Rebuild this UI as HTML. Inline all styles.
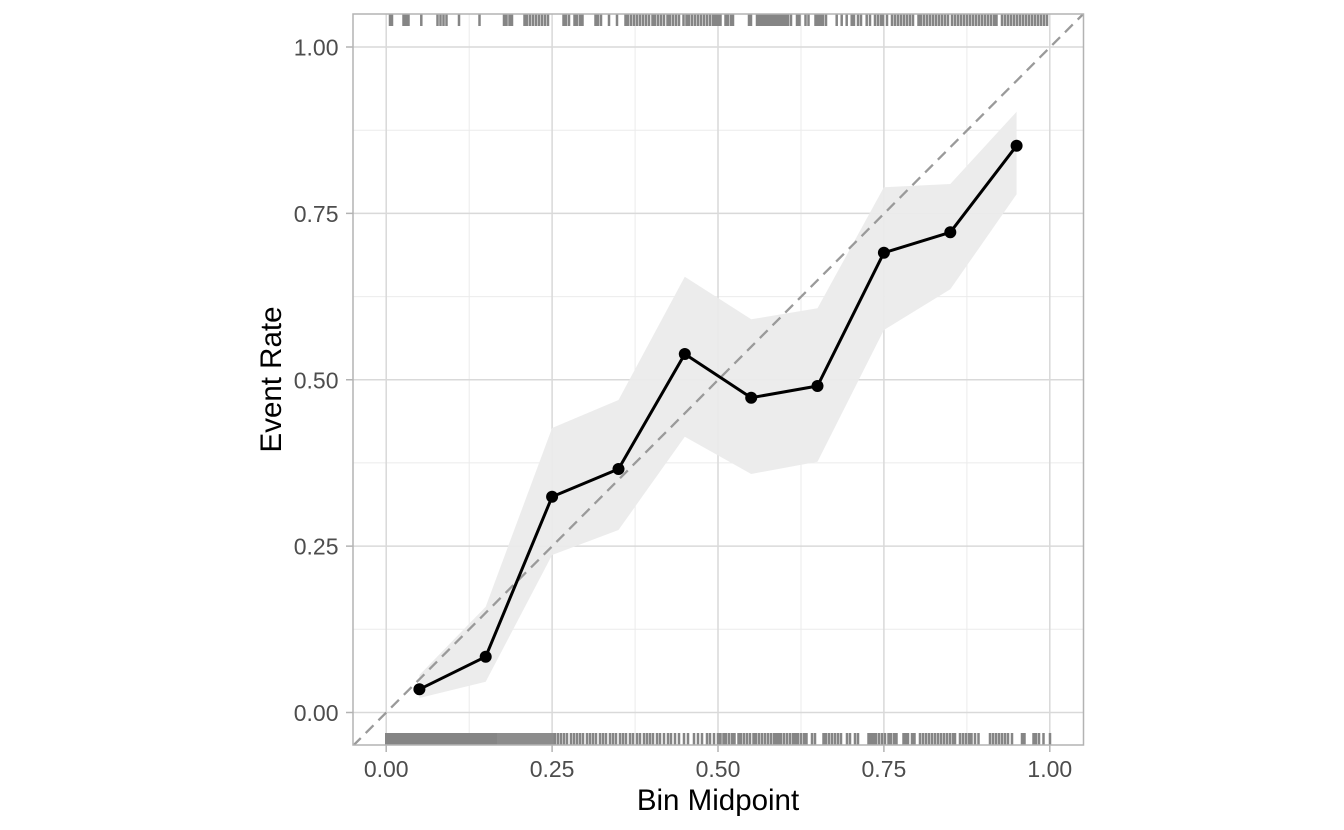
<!DOCTYPE html>
<html><head><meta charset="utf-8"><style>
html,body{margin:0;padding:0;background:#fff;}
svg{display:block;}
text{font-family:"Liberation Sans",Arial,sans-serif;}
</style></head><body>
<svg width="1344" height="830" viewBox="0 0 1344 830" xmlns="http://www.w3.org/2000/svg">
<defs><clipPath id="pc"><rect x="353" y="14" width="730.5" height="731"/></clipPath></defs>
<rect x="0" y="0" width="1344" height="830" fill="#fff"/>
<g stroke="#ebebeb" stroke-width="1">
<path d="M469.2 14V745M635.1 14V745M801 14V745M966.9 14V745"/>
<path d="M353 629.3H1083.5M353 462.9H1083.5M353 296.6H1083.5M353 130.2H1083.5"/>
</g>
<g stroke="#d9d9d9" stroke-width="1.5">
<path d="M386.2 14V745M552.1 14V745M718 14V745M883.9 14V745M1049.8 14V745"/>
<path d="M353 712.5H1083.5M353 546.1H1083.5M353 379.75H1083.5M353 213.4H1083.5M353 47H1083.5"/>
</g>
<g clip-path="url(#pc)">
<polygon fill="#ebebeb" fill-opacity="0.95" points="419.4,675 485.7,606.7 552.1,428 618.5,400 684.8,276.7 751.2,319.3 817.5,308.3 883.9,187.3 950.3,184 1016.6,111.7 1016.6,194.3 950.3,289.3 883.9,330 817.5,461.7 751.2,474 684.8,436.7 618.5,530 552.1,555 485.7,681.7 419.4,698"/>
<line x1="353" y1="745.8" x2="1083.5" y2="13.7" stroke="#9a9a9a" stroke-width="2.3" stroke-dasharray="11 7"/>
<g stroke="#858585" stroke-width="2.5">
<path d="M390 14.5V26M392 14.5V26M403.5 14.5V26M406 14.5V26M408.5 14.5V26M421.3 14.5V26M437.5 14.5V26M440.5 14.5V26M443.5 14.5V26M446.5 14.5V26M459 14.5V26M479.5 14.5V26M504 14.5V26M506.5 14.5V26M509.5 14.5V26M512 14.5V26M524.5 14.5V26M527 14.5V26M530 14.5V26M533 14.5V26M536 14.5V26M539 14.5V26M542 14.5V26M545 14.5V26M548 14.5V26M563.5 14.5V26M566 14.5V26M569 14.5V26M574.5 14.5V26M577 14.5V26M580 14.5V26M582.5 14.5V26M595.5 14.5V26M598 14.5V26M601 14.5V26M609 14.5V26M617 14.5V26M625.5 14.5V26M628 14.5V26M631 14.5V26M634 14.5V26M637 14.5V26M640 14.5V26M643 14.5V26M646 14.5V26M649 14.5V26M652.5 14.5V26M655 14.5V26M658 14.5V26M661 14.5V26M664 14.5V26M667.5 14.5V26M670 14.5V26M673 14.5V26M676 14.5V26M679 14.5V26M683.5 14.5V26M686.5 14.5V26M689 14.5V26M692 14.5V26M695 14.5V26M698 14.5V26M701 14.5V26M704 14.5V26M707 14.5V26M710 14.5V26M713 14.5V26M715.5 14.5V26M718 14.5V26M720.5 14.5V26M725.5 14.5V26M728 14.5V26M731 14.5V26M733 14.5V26M749 14.5V26M751 14.5V26M757 14.5V26M759.5 14.5V26M761.5 14.5V26M764 14.5V26M766.5 14.5V26M769 14.5V26M771.5 14.5V26M773 14.5V26M775.5 14.5V26M778 14.5V26M780.5 14.5V26M783 14.5V26M785.5 14.5V26M788 14.5V26M791 14.5V26M797 14.5V26M799.5 14.5V26M805.5 14.5V26M808.5 14.5V26M815.5 14.5V26M818 14.5V26M820.5 14.5V26M823 14.5V26M826 14.5V26M836.7 14.5V26M841.7 14.5V26M846.7 14.5V26M851.7 14.5V26M854 14.5V26M858 14.5V26M861 14.5V26M866.7 14.5V26M870 14.5V26M875 14.5V26M878 14.5V26M881 14.5V26M883 14.5V26M887 14.5V26M892 14.5V26M895 14.5V26M898 14.5V26M901 14.5V26M904 14.5V26M907 14.5V26M910 14.5V26M913 14.5V26M918.5 14.5V26M921 14.5V26M924 14.5V26M927 14.5V26M930 14.5V26M933 14.5V26M936 14.5V26M939 14.5V26M942 14.5V26M945 14.5V26M948 14.5V26M952 14.5V26M955 14.5V26M958 14.5V26M961 14.5V26M964 14.5V26M967 14.5V26M970 14.5V26M973 14.5V26M976 14.5V26M979 14.5V26M982 14.5V26M985 14.5V26M988 14.5V26M991 14.5V26M994 14.5V26M996.5 14.5V26M1002 14.5V26M1005 14.5V26M1008 14.5V26M1011 14.5V26M1014 14.5V26M1017 14.5V26M1020 14.5V26M1023 14.5V26M1026 14.5V26M1029 14.5V26M1032 14.5V26M1035 14.5V26M1038 14.5V26M1041 14.5V26M1044 14.5V26M1047 14.5V26"/>
</g>
<rect x="385" y="733" width="112" height="12" fill="#858585"/>
<rect x="497" y="733" width="58" height="12" fill="#8c8c8c"/>
<g stroke="#858585" stroke-width="2.5">
<path d="M555 733V745M558 733V745M561 733V745M564 733V745M567 733V745M571 733V745M574 733V745M577 733V745M580 733V745M583 733V745M587 733V745M590 733V745M593 733V745M596 733V745M600 733V745M603 733V745M606 733V745M610 733V745M613 733V745M616 733V745M620 733V745M623 733V745M626 733V745M630 733V745M633 733V745M637 733V745M640 733V745M644 733V745M647 733V745M650 733V745M653 733V745M657 733V745M660 733V745M664 733V745M668 733V745M671 733V745M675 733V745M679 733V745M684 733V745M688 733V745M694 733V745M698 733V745M702 733V745M707 733V745M710 733V745M714 733V745M718 733V745M720.5 733V745M723.5 733V745M726 733V745M729 733V745M732 733V745M734.5 733V745M738.5 733V745M741 733V745M744 733V745M747 733V745M750 733V745M753.5 733V745M756 733V745M759 733V745M762 733V745M765 733V745M768 733V745M771 733V745M774 733V745M776.5 733V745M778.5 733V745M781 733V745M784 733V745M787 733V745M790 733V745M793 733V745M795.5 733V745M798 733V745M801 733V745M804 733V745M806.5 733V745M812 733V745M815 733V745M823.5 733V745M826 733V745M829 733V745M832 733V745M835 733V745M838 733V745M841 733V745M847 733V745M850 733V745M855 733V745M858 733V745M868.5 733V745M871 733V745M873.5 733V745M876 733V745M879 733V745M882 733V745M885 733V745M888.5 733V745M891 733V745M894 733V745M896.5 733V745M903.5 733V745M906 733V745M908 733V745M912 733V745M914.5 733V745M920 733V745M923 733V745M926 733V745M929 733V745M932 733V745M935 733V745M938 733V745M941 733V745M944 733V745M947 733V745M950 733V745M953 733V745M955 733V745M960 733V745M963 733V745M966 733V745M969 733V745M971.5 733V745M975 733V745M978.5 733V745M990 733V745M993 733V745M996 733V745M999 733V745M1002 733V745M1005 733V745M1008 733V745M1012 733V745M1022 733V745M1024.5 733V745M1033.5 733V745M1036 733V745M1039 733V745M1043.5 733V745M1050 733V745"/>
</g>
</g>
<polyline fill="none" stroke="#000" stroke-width="3" stroke-linejoin="round" points="419.4,689.3 485.7,656.7 552.1,496.7 618.5,469 684.8,354 751.2,397.7 817.5,386 883.9,252.7 950.3,232.3 1016.6,145.7"/>
<g fill="#000">
<circle cx="419.4" cy="689.3" r="6"/>
<circle cx="485.7" cy="656.7" r="6"/>
<circle cx="552.1" cy="496.7" r="6"/>
<circle cx="618.5" cy="469" r="6"/>
<circle cx="684.8" cy="354" r="6"/>
<circle cx="751.2" cy="397.7" r="6"/>
<circle cx="817.5" cy="386" r="6"/>
<circle cx="883.9" cy="252.7" r="6"/>
<circle cx="950.3" cy="232.3" r="6"/>
<circle cx="1016.6" cy="145.7" r="6"/>
</g>
<rect x="353" y="14" width="730.5" height="731" fill="none" stroke="#b3b3b3" stroke-width="1.5"/>
<g stroke="#b3b3b3" stroke-width="1.5">
<path d="M386.2 745V752M552.1 745V752M718 745V752M883.9 745V752M1049.8 745V752"/>
<path d="M346 712.5H353M346 546.1H353M346 379.75H353M346 213.4H353M346 47H353"/>
</g>
<g fill="#4d4d4d" font-size="23" text-anchor="middle">
<text x="386.2" y="777">0.00</text>
<text x="552.1" y="777">0.25</text>
<text x="718" y="777">0.50</text>
<text x="883.9" y="777">0.75</text>
<text x="1049.8" y="777">1.00</text>
</g>
<g fill="#4d4d4d" font-size="23" text-anchor="end">
<text x="338.5" y="721">0.00</text>
<text x="338.5" y="554.6">0.25</text>
<text x="338.5" y="388.25">0.50</text>
<text x="338.5" y="221.9">0.75</text>
<text x="338.5" y="55.5">1.00</text>
</g>
<text x="718" y="810" font-size="29.5" text-anchor="middle" fill="#000">Bin Midpoint</text>
<text transform="translate(281,379.5) rotate(-90)" x="0" y="0" font-size="29.5" text-anchor="middle" fill="#000">Event Rate</text>
</svg>
</body></html>
